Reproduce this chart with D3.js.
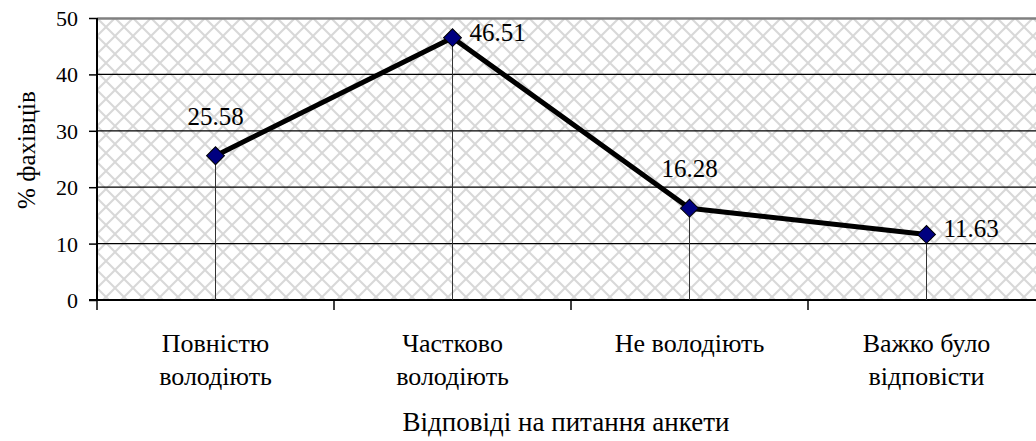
<!DOCTYPE html>
<html><head><meta charset="utf-8">
<script src="https://cdn.jsdelivr.net/npm/d3@7"></script>
</head><body style="margin:0;background:#fff"><svg id="c" width="1036" height="441" style="display:block"></svg>
<script>
const categories = [["Повністю","володіють"],["Частково","володіють"],["Не володіють"],["Важко було","відповісти"]];
const values = [25.58, 46.51, 16.28, 11.63];
const labelPlacement = ["above","right","above","right"];
const yTicks = [0,10,20,30,40,50];
const yTitle = "% фахівців";
const xTitle = "Відповіді на питання анкети";

const FONT = "'Liberation Serif', 'Times New Roman', serif";
const svg = d3.select("#c");
const m = {l:97, t:18, b:300};
const catW = 237;
const x = d3.scaleBand().domain(d3.range(categories.length)).range([m.l, m.l + catW*categories.length]);
const y = d3.scaleLinear().domain([0,50]).range([m.b, m.t]);
const cx = i => x(i) + x.bandwidth()/2;

const defs = svg.append("defs");
const P = 18;
const pat = defs.append("pattern").attr("id","hatch").attr("patternUnits","userSpaceOnUse")
  .attr("width",P).attr("height",P).attr("x",m.l).attr("y",m.t);
pat.append("rect").attr("width",P).attr("height",P).attr("fill","#fff");
pat.append("path").attr("d",`M0,0L${P},${P}M${P},0L0,${P}M-1,${P-1}L1,${P+1}M${P-1},-1L${P+1},1`)
  .attr("stroke","#d8d8d8").attr("stroke-width",2);

svg.append("rect").attr("x",m.l).attr("y",y(50)).attr("width",x.range()[1]-m.l).attr("height",y(0)-y(50)).attr("fill","url(#hatch)");

// grid
svg.selectAll(".g").data(yTicks.filter(d=>d>0&&d<50)).join("line")
  .attr("x1",m.l).attr("x2",1036).attr("y1",d=>y(d)).attr("y2",d=>y(d)).attr("stroke","#000").attr("stroke-width",1.3);
svg.append("line").attr("x1",m.l).attr("x2",1036).attr("y1",y(50)+0.5).attr("y2",y(50)+0.5).attr("stroke","#808080").attr("stroke-width",2.5);

// y axis
const ya = svg.append("g").attr("transform",`translate(${m.l},0)`)
  .call(d3.axisLeft(y).tickValues(yTicks).tickSize(8).tickFormat(d3.format("d")));
ya.attr("font-family", null);
ya.select(".domain").attr("stroke","#000").attr("stroke-width",2).attr("d",`M0,${y(0)}V${y(50)}`);
ya.selectAll(".tick line").attr("stroke","#000").attr("stroke-width",1.5);
ya.selectAll(".tick text").attr("font-size",22).attr("fill","#000").attr("x",-19).attr("dy","0.34em");

// x axis
const boundaries = d3.range(categories.length+1).map(i=>m.l+i*catW);
svg.append("line").attr("x1",m.l-8).attr("x2",1036).attr("y1",y(0)).attr("y2",y(0)).attr("stroke","#000").attr("stroke-width",2);
svg.selectAll(".xt").data(boundaries).join("line")
  .attr("x1",d=>d).attr("x2",d=>d).attr("y1",y(0)).attr("y2",y(0)+10).attr("stroke","#000").attr("stroke-width",1.5);

// drop lines
svg.selectAll(".drop").data(values).join("line")
  .attr("x1",(d,i)=>cx(i)).attr("x2",(d,i)=>cx(i))
  .attr("y1",d=>y(d)).attr("y2",y(0)).attr("stroke","#333").attr("stroke-width",1);

// line
const line = d3.line().x((d,i)=>cx(i)).y(d=>y(d));
svg.append("path").datum(values).attr("d",line).attr("fill","none").attr("stroke","#000").attr("stroke-width",5).attr("stroke-linejoin","round");

// markers
svg.selectAll(".mk").data(values).join("path")
  .attr("d",d3.symbol().type(d3.symbolSquare).size(160))
  .attr("transform",(d,i)=>`translate(${cx(i)},${y(d)}) rotate(45)`)
  .attr("fill","#000080").attr("stroke","#000").attr("stroke-width",1);

// data labels
svg.selectAll(".dl").data(values).join("text")
  .attr("x",(d,i)=>cx(i) + (labelPlacement[i]==="right"?17:0))
  .attr("y",(d,i)=>y(d) + (labelPlacement[i]==="right"?3:-31))
  .attr("text-anchor",(d,i)=>labelPlacement[i]==="right"?"start":"middle")
  .attr("font-size",25).attr("fill","#000").text(d=>d.toFixed(2));

// category labels
const cl = svg.selectAll(".cl").data(categories).join("text")
  .attr("text-anchor","middle").attr("font-size",26).attr("fill","#000");
cl.selectAll("tspan").data((d,i)=>d.map(t=>({t,i}))).join("tspan")
  .attr("x",d=>cx(d.i)).attr("y",(d,j)=>352+j*33).text(d=>d.t);

// titles
svg.append("text").attr("x",566).attr("y",431).attr("text-anchor","middle").attr("font-size",27).attr("fill","#000").text(xTitle);
svg.append("text").attr("transform","translate(35,150) rotate(-90)").attr("text-anchor","middle").attr("font-size",25).attr("fill","#000").text(yTitle);

svg.selectAll("text").attr("font-family", FONT).style("font-family", FONT, "important");
</script></body></html>
